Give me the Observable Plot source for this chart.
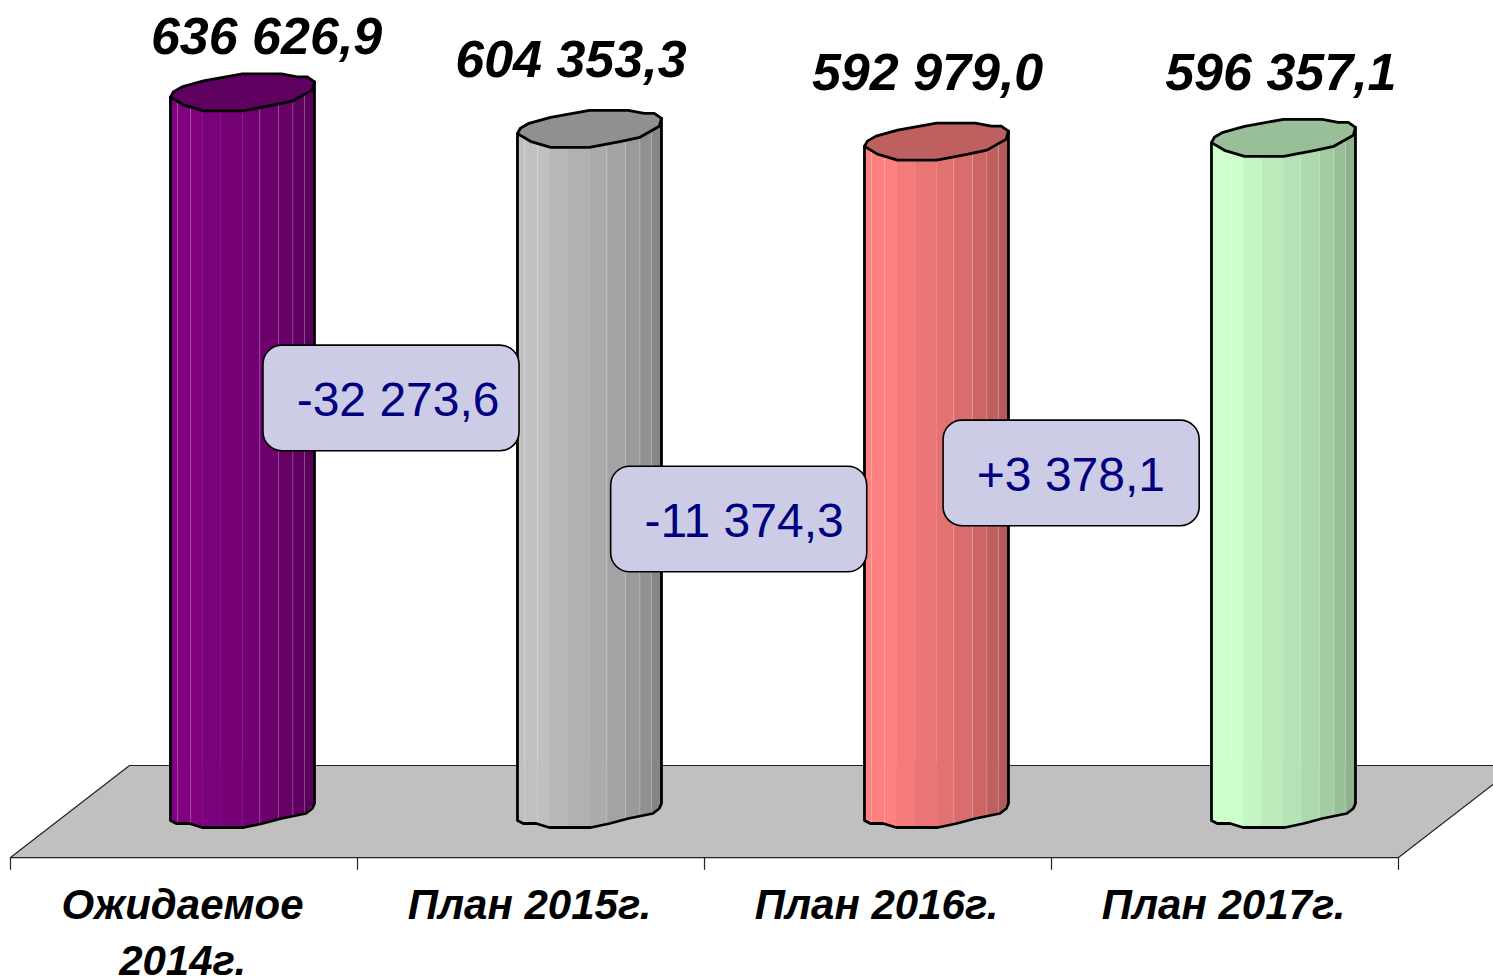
<!DOCTYPE html>
<html><head><meta charset="utf-8">
<script src="https://cdn.jsdelivr.net/npm/d3@7"></script>
<script src="https://cdn.jsdelivr.net/npm/@observablehq/plot@0.6"></script>
<style>html,body{margin:0;padding:0;background:#fff;overflow:hidden}svg{display:block}</style>
</head><body><div id="chart"></div>
<script>
const categories = ["Ожидаемое\n2014г.", "План 2015г.", "План 2016г.", "План 2017г."];
const values = [636626.9, 604353.3, 592979.0, 596357.1];
const valueLabels = ["636 626,9", "604 353,3", "592 979,0", "596 357,1"];
const colors = ["#800080", "#c0c0c0", "#ff8080", "#ccffcc"];
const changes = ["-32 273,6", "-11 374,3", "+3 378,1"];

// Layout, in chart units: category x, value y
const labelX = [0.738, 1.615, 2.643, 3.661];
const labelY = [685400, 665200, 653700, 653700];
const calloutX = [1.098, 2.100, 3.058];
const calloutY = [365300, 258000, 298800];
const calloutTextY = [363500, 256000, 297000];
const calloutTextX = [1.117, 2.114, 3.056];
const shift = 0.1685, half = 0.2075, floorFront = -41700, floorBack = 39900, tickEnd = -53000, axisLabelY = -60700;

// Cylinder cross-section: fraction across the width, offset in value units
const capBackF = [0, .02, .08, .23, .50, .77, .88, .95, 1];
const capBackR = [-4255, 443, 4876, 10195, 16400, 16400, 13741, 13741, 9308];
const capFrontF = [0, .09, .23, .50, .72, .85, .985, 1];
const capFrontR = [-4255, -11081, -16400, -16400, -11081, -7535, 2216, 9308];
const baseF = [0, .04, .13, .22, .51, .64, .77, .94, .985, 1];
const baseR = [-8865, -11525, -11525, -15070, -15070, -11525, -7092, -2660, 1773, 6206];
const facetEdges = [0, .05, .14, .22, .35, .50, .62, .75, .85, .93, 1];
const facetShade = [1, 1, 1, .96, .92, .89, .85, .80, .75, .70];
const seams = [.05, .14, .62, .75, .85, .93];
const capShade = .75;

const shade = (c, k) => { const h = d3.rgb(c); return d3.rgb(h.r * k, h.g * k, h.b * k).formatHex(); };
const frontAt = d3.scaleLinear(capFrontF, capFrontR);
const baseAt = d3.scaleLinear(baseF, baseR);
const cx = (i, f) => i + 0.5 + shift - half + f * 2 * half;

const floor = [[0, floorFront], [4, floorFront], [4 + .343, floorBack], [.343, floorBack], [0, floorFront]].map(([x, y]) => ({x, y}));
const ticks = d3.range(5);

const facets = [], outlines = [], caps = [], seamRows = [];
values.forEach((v, i) => {
  facetShade.forEach((k, j) => {
    const a = facetEdges[j], b = facetEdges[j + 1], fill = shade(colors[i], k), z = `${i}-${j}`;
    facets.push({z, fill, x: cx(i, a), y: v + frontAt(a)}, {z, fill, x: cx(i, b), y: v + frontAt(b)},
                {z, fill, x: cx(i, b), y: baseAt(b)}, {z, fill, x: cx(i, a), y: baseAt(a)});
  });
  outlines.push({z: i, x: cx(i, 0), y: v + capBackR[0]});
  baseF.forEach((f, j) => outlines.push({z: i, x: cx(i, f), y: baseR[j]}));
  outlines.push({z: i, x: cx(i, 1), y: v + capBackR[capBackR.length - 1]});
  const fill = shade(colors[i], capShade);
  capBackF.forEach((f, j) => caps.push({z: i, fill, x: cx(i, f), y: v + capBackR[j]}));
  for (let j = capFrontF.length - 2; j >= 0; j--) caps.push({z: i, fill, x: cx(i, capFrontF[j]), y: v + capFrontR[j]});
  seams.forEach(f => seamRows.push({x: cx(i, f), y1: baseAt(f), y2: v + frontAt(f)}));
});

const font = "'Liberation Sans', Arial, sans-serif";
const chart = Plot.plot({
  width: 1493, height: 976, margin: 0,
  x: {domain: [0, 4], range: [10, 1398], axis: null},
  y: {domain: [-147163, 718085], range: [976, 0], axis: null},
  color: {type: "identity"},
  style: {background: "#fff", fontFamily: font},
  marks: [
    Plot.line(floor, {x: "x", y: "y", fill: "#c0c0c0", stroke: "#222", strokeWidth: 1.2}),
    Plot.ruleX(ticks, {x: d => d, y1: floorFront, y2: tickEnd, stroke: "#222", strokeWidth: 1.2}),
    Plot.line(facets, {x: "x", y: "y", z: "z", fill: "fill", stroke: "fill", strokeWidth: .5}),
    Plot.ruleX(seamRows, {x: "x", y1: "y1", y2: "y2", stroke: "#fff", strokeOpacity: .22, strokeWidth: 1}),
    Plot.line(outlines, {x: "x", y: "y", z: "z", stroke: "#000", strokeWidth: 2.8, strokeLinejoin: "round"}),
    Plot.line(caps, {x: "x", y: "y", z: "z", fill: "fill", stroke: "#000", strokeWidth: 2.8, strokeLinejoin: "round"}),
    Plot.rect(changes, {
      x1: (d, i) => calloutX[i] - .369, x2: (d, i) => calloutX[i] + .369,
      y1: (d, i) => calloutY[i] - 46800, y2: (d, i) => calloutY[i] + 46800,
      fill: "#ccccE6", stroke: "#000", strokeWidth: 1.6, rx: 19
    }),
    Plot.text(changes, {x: (d, i) => calloutTextX[i], y: (d, i) => calloutTextY[i], text: d => d,
      fontSize: 48, fill: "#000080", fontFamily: font}),
    Plot.text(valueLabels, {x: (d, i) => labelX[i], y: (d, i) => labelY[i], text: d => d,
      fontSize: 52, fontWeight: "bold", fontStyle: "italic", fill: "#000", fontFamily: font}),
    Plot.text(categories, {x: (d, i) => i + .496, y: axisLabelY, text: d => d, lineAnchor: "top", lineHeight: 1.34,
      fontSize: 42, fontWeight: "bold", fontStyle: "italic", fill: "#000", fontFamily: font})
  ]
});
document.getElementById("chart").append(chart);
</script></body></html>
